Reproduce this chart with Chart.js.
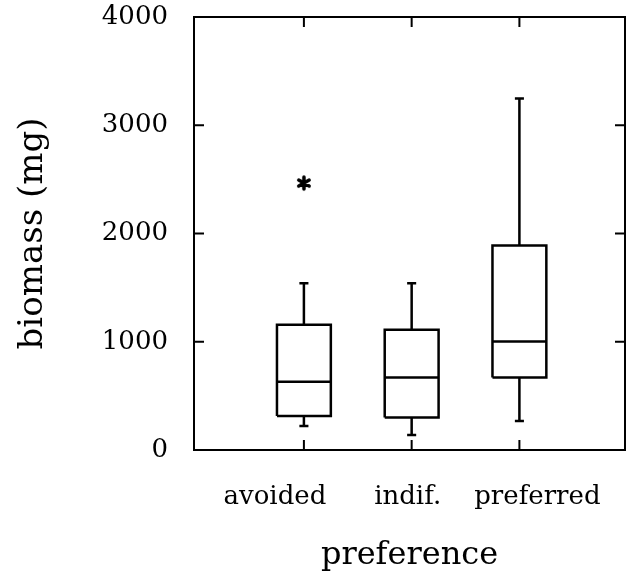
<!DOCTYPE html>
<html>
<head>
<meta charset="utf-8">
<script src="https://cdn.jsdelivr.net/npm/chart.js@4.4.1/dist/chart.umd.min.js"></script>
<style>
	html, body { margin: 0; padding: 0; background: #fff; }
	#wrap { width: 626px; height: 583px; }
</style>
</head>
<body>
<div id="wrap"><canvas id="chart"></canvas></div>
<script>
const categories = ['avoided', 'indif.', 'preferred'];
const whiskerLow = [222, 139, 269];
const quartileLow = [315, 300, 670];
const medians = [630, 670, 1003];
const quartileHigh = [1157, 1111, 1889];
const whiskerHigh = [1540, 1540, 3247];
const outliers = [[2466], [], []];
const yTicks = [0, 1000, 2000, 3000, 4000];

const FONT = 'DejaVu Serif';
const BOX_HALF = 0.25;
const CAP_HALF = 0.042;
// category labels in the original sit a little off their tick marks
const labelNudge = [-29, -4, 18];

function line(points) {
	return {
		data: points,
		showLine: true,
		borderColor: '#000',
		borderWidth: 2.5,
		pointRadius: 0,
		tension: 0
	};
}

// six-armed asterisk used for the outlier
function asterisk() {
	const c = document.createElement('canvas');
	c.width = 18;
	c.height = 18;
	const g = c.getContext('2d');
	g.strokeStyle = '#000';
	g.lineWidth = 3.5;
	g.lineCap = 'round';
	g.beginPath();
	for (let k = 0; k < 3; k++) {
		const ang = Math.PI / 2 + k * Math.PI / 3;
		g.moveTo(9 + 6 * Math.cos(ang), 9 + 6 * Math.sin(ang));
		g.lineTo(9 - 6 * Math.cos(ang), 9 - 6 * Math.sin(ang));
	}
	g.stroke();
	return c;
}

const datasets = [];
categories.forEach((cat, i) => {
	const x = i + 1;
	// box
	datasets.push(line([
		{x: x - BOX_HALF, y: quartileLow[i]},
		{x: x + BOX_HALF, y: quartileLow[i]},
		{x: x + BOX_HALF, y: quartileHigh[i]},
		{x: x - BOX_HALF, y: quartileHigh[i]},
		{x: x - BOX_HALF, y: quartileLow[i]}
	]));
	// median
	datasets.push(line([
		{x: x - BOX_HALF, y: medians[i]},
		{x: x + BOX_HALF, y: medians[i]}
	]));
	// upper whisker + cap
	datasets.push(line([
		{x: x, y: quartileHigh[i]},
		{x: x, y: whiskerHigh[i]},
		{x: x - CAP_HALF, y: whiskerHigh[i]},
		{x: x + CAP_HALF, y: whiskerHigh[i]}
	]));
	// lower whisker + cap
	datasets.push(line([
		{x: x, y: quartileLow[i]},
		{x: x, y: whiskerLow[i]},
		{x: x - CAP_HALF, y: whiskerLow[i]},
		{x: x + CAP_HALF, y: whiskerLow[i]}
	]));
	if (outliers[i].length) {
		datasets.push({
			data: outliers[i].map(v => ({x: x, y: v})),
			showLine: false,
			pointStyle: asterisk(),
			pointRadius: 9
		});
	}
});

// frame, inward tick marks and category labels
const frameTicks = {
	id: 'frameTicks',
	afterDatasetsDraw(chart) {
		const {ctx, chartArea: a, scales} = chart;
		ctx.save();
		ctx.strokeStyle = '#000';
		ctx.lineWidth = 2;
		ctx.strokeRect(a.left, a.top, a.right - a.left, a.bottom - a.top);
		ctx.beginPath();
		yTicks.slice(1, -1).forEach(v => {
			const py = scales.y.getPixelForValue(v);
			ctx.moveTo(a.left, py);
			ctx.lineTo(a.left + 10, py);
			ctx.moveTo(a.right, py);
			ctx.lineTo(a.right - 10, py);
		});
		categories.forEach((c, i) => {
			const px = scales.x.getPixelForValue(i + 1);
			ctx.moveTo(px, a.bottom);
			ctx.lineTo(px, a.bottom - 10);
			ctx.moveTo(px, a.top);
			ctx.lineTo(px, a.top + 10);
		});
		ctx.stroke();

		ctx.fillStyle = '#000';
		ctx.font = '26px "' + FONT + '"';
		ctx.textAlign = 'center';
		ctx.textBaseline = 'alphabetic';
		categories.forEach((c, i) => {
			const px = scales.x.getPixelForValue(i + 1) + labelNudge[i];
			ctx.fillText(c, px, a.bottom + 54);
		});
		ctx.restore();
	}
};

new Chart(document.getElementById('chart'), {
	type: 'scatter',
	data: { datasets: datasets },
	plugins: [frameTicks],
	options: {
		responsive: true,
		maintainAspectRatio: false,
		animation: false,
		layout: {
			autoPadding: false,
			padding: { top: 17, right: 1, left: 0, bottom: 0 }
		},
		plugins: {
			legend: { display: false },
			tooltip: { enabled: false }
		},
		scales: {
			x: {
				type: 'linear',
				min: -0.02,
				max: 3.98,
				afterBuildTicks: function(scale) {
					scale.ticks = categories.map((c, i) => ({value: i + 1}));
				},
				afterFit: function(scale) {
					scale.height = 133;
					scale.paddingLeft = 0;
					scale.paddingRight = 0;
				},
				grid: { display: false, drawTicks: false },
				border: { display: false },
				ticks: { display: false },
				title: {
					display: true,
					text: 'preference',
					color: '#000',
					font: { family: FONT, size: 32 },
					padding: { top: 0, bottom: 8 }
				}
			},
			y: {
				min: 0,
				max: 4000,
				afterBuildTicks: function(scale) {
					scale.ticks = yTicks.map(v => ({value: v}));
				},
				afterFit: function(scale) {
					scale.width = 194;
					scale.paddingTop = 0;
					scale.paddingBottom = 0;
				},
				grid: { display: false, drawTicks: false },
				border: { display: false },
				ticks: {
					color: '#000',
					padding: 26,
					font: { family: FONT, size: 26 },
					callback: function(value) {
						return String(value);
					}
				},
				title: {
					display: true,
					text: 'biomass (mg)',
					color: '#000',
					font: { family: FONT, size: 34 },
					padding: { top: 13, bottom: 0 }
				}
			}
		}
	}
});
</script>
</body>
</html>
